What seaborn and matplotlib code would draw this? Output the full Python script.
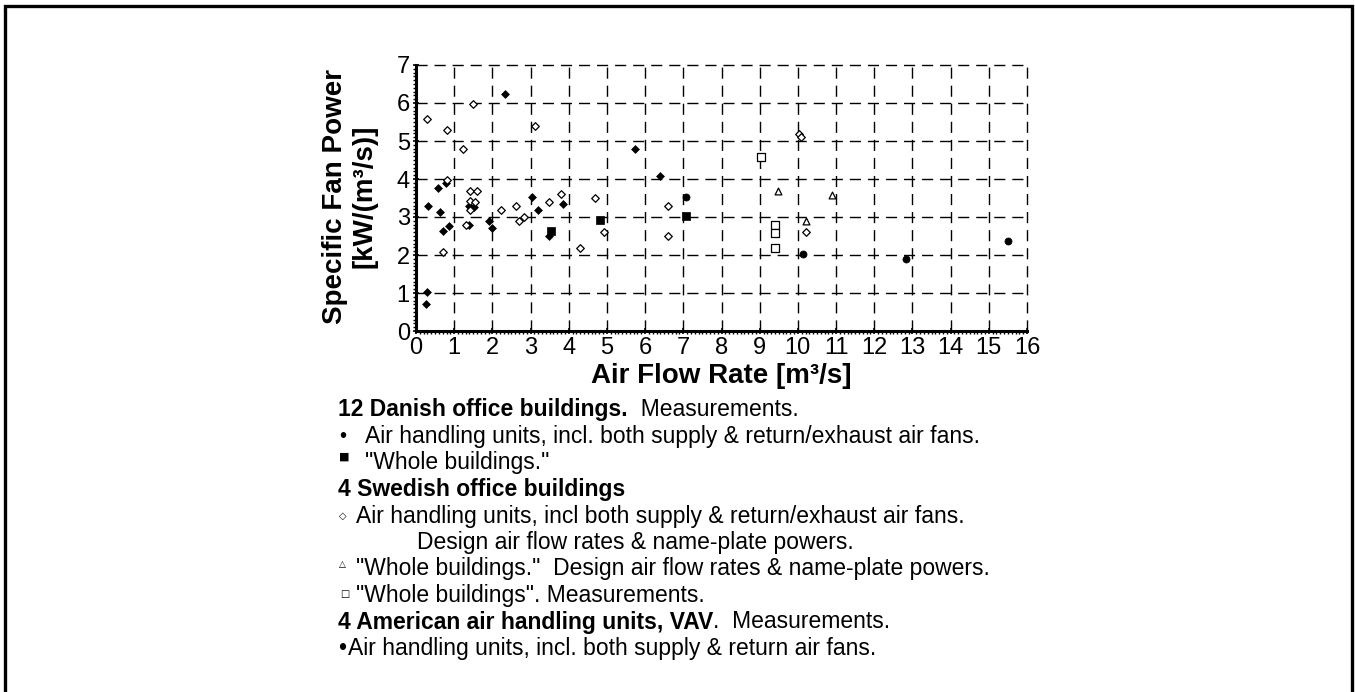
import matplotlib
matplotlib.use("Agg")
import matplotlib.pyplot as plt
import seaborn as sns
import numpy as np
from matplotlib.patches import Rectangle
from matplotlib.ticker import MultipleLocator

# ---------------- data ----------------
danish_ahu_x = [0.27, 0.29, 0.31, 0.57, 0.63, 0.70, 0.78, 0.87, 1.39, 1.40, 1.52, 1.91, 1.98, 2.33, 3.05, 3.20, 3.48, 3.84, 5.74, 6.38]
danish_ahu_y = [0.72, 1.03, 3.29, 3.76, 3.12, 2.63, 3.89, 2.75, 2.78, 3.29, 3.25, 2.90, 2.70, 6.23, 3.53, 3.18, 2.49, 3.34, 4.80, 4.09]

danish_whole_x = [3.54, 4.83, 7.07]
danish_whole_y = [2.63, 2.93, 3.02]

swedish_ahu_x = [0.30, 0.72, 0.80, 0.81, 1.22, 1.32, 1.42, 1.42, 1.42, 1.50, 1.54, 1.61, 2.22, 2.62, 2.71, 2.82,
                 3.12, 3.49, 3.80, 4.30, 4.70, 4.91, 6.60, 6.60, 10.04, 10.08, 10.20]
swedish_ahu_y = [5.57, 2.09, 5.28, 3.98, 4.78, 2.80, 3.69, 3.41, 3.18, 5.98, 3.39, 3.69, 3.19, 3.30, 2.89, 3.00,
                 5.39, 3.39, 3.60, 2.19, 3.50, 2.60, 3.30, 2.50, 5.18, 5.10, 2.60]

swedish_design_x = [9.49, 10.20, 10.89]
swedish_design_y = [3.69, 2.89, 3.59]

swedish_meas_x = [9.04, 9.40, 9.40, 9.40]
swedish_meas_y = [4.58, 2.80, 2.59, 2.18]

american_x = [7.07, 10.13, 12.82, 15.50]
american_y = [3.52, 2.02, 1.89, 2.37]

x_ticks = list(range(0, 17))
y_ticks = list(range(0, 8))

x_label = "Air Flow Rate [m³/s]"
y_label = "Specific Fan Power\n[kW/(m³/s)]"

legend_rows = [
    ("bold", "12 Danish office buildings.", "  Measurements."),
    ("sym", "•", "Air handling units, incl. both supply & return/exhaust air fans."),
    ("sym", "■", "\"Whole buildings.\""),
    ("bold", "4 Swedish office buildings", ""),
    ("sym", "◇", "Air handling units, incl both supply & return/exhaust air fans."),
    ("indent", "", "Design air flow rates & name-plate powers."),
    ("sym", "△", "\"Whole buildings.\"  Design air flow rates & name-plate powers."),
    ("sym", "□", "\"Whole buildings\". Measurements."),
    ("bold", "4 American air handling units, VAV", ".  Measurements."),
    ("sym", "•", "Air handling units, incl. both supply & return air fans."),
]

# ---------------- figure ----------------
sns.set_theme(style="white")
plt.rcParams["font.family"] = ["Liberation Sans", "DejaVu Sans"]

W, H = 1355, 692
fig = plt.figure(figsize=(W / 100, H / 100), dpi=100)
fig.patch.set_facecolor("white")

def fx(px):
    return px / W

def fy(py):
    return 1 - py / H

ax = fig.add_axes([fx(416), fy(331), (1027 - 416) / W, (331 - 65) / H])
ax.set_facecolor("white")

common = dict(ax=ax, color="black", legend=False, zorder=5)
sns.scatterplot(x=danish_ahu_x, y=danish_ahu_y, marker="D", s=16, edgecolor="black", linewidth=0.5, **common)
sns.scatterplot(x=danish_whole_x, y=danish_whole_y, marker="s", s=32, edgecolor="black", linewidth=0.5, **common)
sns.scatterplot(x=american_x, y=american_y, marker="o", s=26, edgecolor="black", linewidth=0.5, **common)
sns.scatterplot(x=swedish_ahu_x, y=swedish_ahu_y, marker="D", s=15, facecolor="white", edgecolor="black",
                linewidth=0.9, ax=ax, legend=False, zorder=6)
sns.scatterplot(x=swedish_design_x, y=swedish_design_y, marker="^", s=24, facecolor="white", edgecolor="black",
                linewidth=0.9, ax=ax, legend=False, zorder=6)
sns.scatterplot(x=swedish_meas_x, y=swedish_meas_y, marker="s", s=30, facecolor="white", edgecolor="black",
                linewidth=0.9, ax=ax, legend=False, zorder=6)

ax.set_xlim(0, 16)
ax.set_ylim(0, 7)
ax.set_xticks(x_ticks)
ax.set_yticks(y_ticks)
ax.set_xticklabels([str(v) for v in x_ticks])
ax.set_yticklabels([str(v) for v in y_ticks])
ax.xaxis.set_minor_locator(MultipleLocator(0.1))
ax.yaxis.set_minor_locator(MultipleLocator(0.1))
ax.set_xlabel("")
ax.set_ylabel("")

ax.grid(True, which="major", color="black", linestyle=(0, (8, 5)), linewidth=1.0)
for gl in ax.get_xgridlines() + ax.get_ygridlines():
    gl.set_clip_on(False)

for side in ["top", "right"]:
    ax.spines[side].set_visible(False)
for side in ["left", "bottom"]:
    ax.spines[side].set_visible(True)
    ax.spines[side].set_color("black")
    ax.spines[side].set_linewidth(2.2)

ax.tick_params(axis="both", which="major", direction="inout", length=5, width=1.2, color="black",
               labelsize=17, labelcolor="black", pad=2)
ax.tick_params(axis="both", which="minor", direction="out", length=2, width=1.0, color="black")
ax.tick_params(axis="x", which="both", bottom=True)
ax.tick_params(axis="y", which="both", left=True)

# axis labels
fig.text(fx(350), fy(196), y_label, rotation=90, ha="center", va="center", multialignment="center",
         fontsize=20, fontweight="bold", linespacing=1.15, color="black")
fig.text(fx(721), fy(376), x_label, ha="center", va="center", fontsize=20, fontweight="bold", color="black")

# legend text block
row_y0 = 410
row_dy = 26.5
fs = 16.5
fig.canvas.draw()
renderer = fig.canvas.get_renderer()
for i, (kind, a, b) in enumerate(legend_rows):
    y = fy(row_y0 + i * row_dy)
    if kind == "bold":
        t = fig.text(fx(338), y, a, ha="left", va="center", fontsize=fs, fontweight="bold", color="black")
        if b:
            bb = t.get_window_extent(renderer=renderer)
            fig.text(bb.x1 / W, y, b, ha="left", va="center", fontsize=fs, color="black")
    elif kind == "sym":
        if a == "•" and i == 9:
            fig.text(fx(338), y, a, ha="left", va="center", fontsize=fs, color="black")
            fig.text(fx(348), y, b, ha="left", va="center", fontsize=fs, color="black")
        elif a == "•":
            fig.text(fx(339), y, a, ha="left", va="center", fontsize=fs - 2, color="black")
            fig.text(fx(365), y, b, ha="left", va="center", fontsize=fs, color="black")
        elif a == "■":
            fig.text(fx(339), y + 6 / H, a, ha="left", va="center", fontsize=8,
                     family=["DejaVu Sans"], color="black")
            fig.text(fx(365), y, b, ha="left", va="center", fontsize=fs, color="black")
        elif a == "△":
            fig.text(fx(339), y + 5 / H, a, ha="left", va="center", fontsize=6.5,
                     family=["DejaVu Sans"], color="black")
            fig.text(fx(356), y, b, ha="left", va="center", fontsize=fs, color="black")
        elif a == "□":
            fig.text(fx(340), y + 2 / H, a, ha="left", va="center", fontsize=7,
                     family=["DejaVu Sans"], color="black")
            fig.text(fx(356), y, b, ha="left", va="center", fontsize=fs, color="black")
        else:
            fig.text(fx(339), y, a, ha="left", va="center", fontsize=7,
                     family=["DejaVu Sans"], color="black")
            fig.text(fx(356), y, b, ha="left", va="center", fontsize=fs, color="black")
    else:
        fig.text(fx(417), y, b, ha="left", va="center", fontsize=fs, color="black")

# outer frame (top, left, right visible)
frame = Rectangle((fx(5), -0.1), (1352 - 5) / W, 1.1 - 6 / H, fill=False, edgecolor="black",
                  linewidth=2.4, transform=fig.transFigure, figure=fig)
fig.patches.append(frame)

fig.savefig("out.png", dpi=100, facecolor="white")
